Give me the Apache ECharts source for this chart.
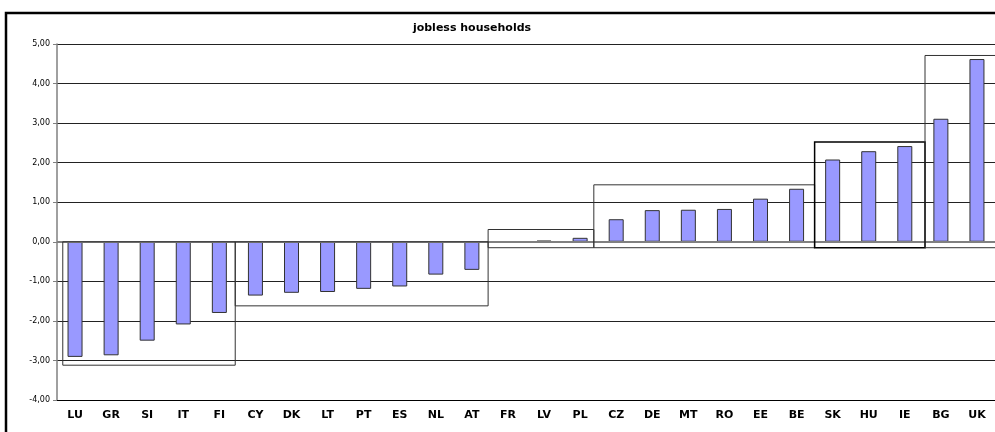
<!DOCTYPE html>
<html>
<head>
<meta charset="utf-8">
<script src="https://cdn.jsdelivr.net/npm/echarts@6/dist/echarts.min.js"></script>
<style>
  html, body { margin: 0; padding: 0; background: #fff; }
  #chart { width: 995px; height: 432px; }
</style>
</head>
<body>
<div id="chart"></div>
<script>
// countries, sorted by change
const countries = ['LU', 'GR', 'SI', 'IT', 'FI', 'CY', 'DK', 'LT', 'PT', 'ES', 'NL', 'AT', 'FR',
  'LV', 'PL', 'CZ', 'DE', 'MT', 'RO', 'EE', 'BE', 'SK', 'HU', 'IE', 'BG', 'UK']
const values = [-2.91, -2.87, -2.50, -2.09, -1.80, -1.36, -1.29, -1.27, -1.19, -1.13, -0.83, -0.71, 0.01,
  0.03, 0.10, 0.57, 0.80, 0.81, 0.83, 1.09, 1.34, 2.08, 2.29, 2.42, 3.11, 4.62]
const yTicks = [-4, -3, -2, -1, 0, 1, 2, 3, 4, 5]

// group boxes, in category index units
const boxLeft = [-0.34, 4.44, 11.45, 14.38, 20.5, 23.56]
const boxRight = [4.44, 11.45, 14.38, 20.5, 23.56, 27]
const boxTop = [0, 0, 0.31, 1.44, 2.52, 4.71]
const boxBottom = [-3.12, -1.62, -0.15, -0.15, -0.15, -0.15]

const boxData = boxLeft.map((l, i) => [l, boxRight[i], boxTop[i], boxBottom[i]])

const myChart = echarts.init(document.getElementById('chart'))

myChart.setOption({
  backgroundColor: '#fff',
  animation: false,
  title: {
    text: 'jobless households',
    left: 467,
    top: 18,
    textAlign: 'center',
    textStyle: {
      fontFamily: 'DejaVu Sans',
      fontWeight: 'bold',
      fontSize: 11,
      color: '#000'
    }
  },
  graphic: [{
    type: 'rect',
    shape: { x: 6, y: 13, width: 1100, height: 500 },
    style: { fill: 'none', stroke: '#000', lineWidth: 2.5 },
    silent: true,
    z: 100
  }],
  grid: {
    left: 57,
    right: 0,
    top: 44,
    bottom: 32
  },
  xAxis: [{
    type: 'category',
    data: countries,
    axisTick: { show: false },
    axisLine: { onZero: false, lineStyle: { color: '#000', width: 1 } },
    axisLabel: {
      interval: 0,
      margin: 10,
      color: '#000',
      fontFamily: 'DejaVu Sans',
      fontWeight: 'bold',
      fontSize: 11
    }
  }, {
    type: 'value',
    min: -0.5,
    max: 25.5,
    show: false
  }],
  yAxis: {
    type: 'value',
    min: yTicks[0],
    max: yTicks[yTicks.length - 1],
    interval: 1,
    axisLine: { show: true, onZero: false, lineStyle: { color: '#808080', width: 1.5 } },
    axisTick: { show: true, length: 4, lineStyle: { color: '#808080' } },
    axisLabel: {
      margin: 7,
      color: '#000',
      fontFamily: 'DejaVu Sans',
      fontSize: 8,
      formatter: v => v.toFixed(2).replace('.', ',')
    },
    splitLine: { show: true, lineStyle: { color: '#222', width: 1 } }
  },
  series: [{
    type: 'bar',
    data: values,
    barWidth: 15,
    itemStyle: {
      color: '#9999ff',
      borderColor: '#333',
      borderWidth: 1
    },
    markLine: {
      silent: true,
      symbol: 'none',
      label: { show: false },
      lineStyle: { color: '#808080', type: 'solid', width: 2 },
      data: [{ yAxis: 0 }]
    },
    z: 2
  }, {
    type: 'custom',
    xAxisIndex: 1,
    clip: false,
    data: boxData,
    renderItem: (params, api) => {
      let p1 = api.coord([api.value(0), api.value(2)])
      let p2 = api.coord([api.value(1), api.value(3)])
      let strong = params.dataIndex === 4
      return {
        type: 'rect',
        shape: { x: p1[0], y: p1[1], width: p2[0] - p1[0], height: p2[1] - p1[1] },
        style: {
          fill: 'none',
          stroke: strong ? '#000' : '#333',
          lineWidth: strong ? 1.5 : 1
        }
      }
    },
    z: 5
  }]
})
</script>
</body>
</html>
